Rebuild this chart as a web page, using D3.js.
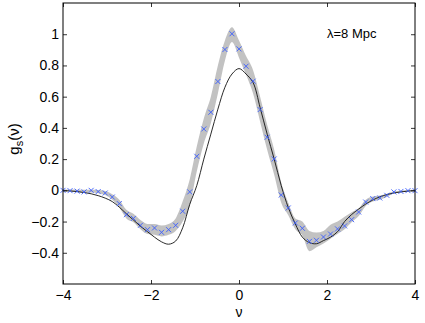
<!DOCTYPE html>
<html>
<head>
<meta charset="utf-8">
<script src="https://cdn.jsdelivr.net/npm/d3@7"></script>
<style>
  body { margin: 0; background: #fff; }
  text { font-family: "Liberation Sans", Arial, sans-serif; fill: #000; }
</style>
</head>
<body>
<svg id="chart" width="425" height="323"></svg>
<script>
// nu grid
const nu = [-4.00, -3.84, -3.68, -3.52, -3.36, -3.20, -3.04, -2.88, -2.72, -2.56,
            -2.40, -2.24, -2.08, -1.92, -1.76, -1.60, -1.44, -1.28, -1.12, -0.96,
            -0.80, -0.64, -0.48, -0.32, -0.16, 0.00, 0.16, 0.32, 0.48, 0.64,
            0.80, 0.96, 1.12, 1.28, 1.44, 1.60, 1.76, 1.92, 2.08, 2.24,
            2.40, 2.56, 2.72, 2.88, 3.04, 3.20, 3.36, 3.52, 3.68, 3.84, 4.00]

// measured g_s (blue crosses)
const measured = [0.000, -0.002, -0.005, -0.010, 0.000, -0.008, -0.017, -0.043, -0.085, -0.156,
                  -0.180, -0.224, -0.252, -0.241, -0.269, -0.252, -0.224, -0.134, -0.010, 0.218,
                  0.393, 0.500, 0.697, 0.902, 1.003, 0.906, 0.795, 0.699, 0.517, 0.340,
                  0.201, -0.030, -0.113, -0.209, -0.243, -0.327, -0.320, -0.299, -0.280, -0.247,
                  -0.228, -0.188, -0.139, -0.075, -0.053, -0.049, -0.032, -0.010, -0.007, -0.002, -0.002]

// gray band edges
const bandHi = [0.006, 0.005, 0.004, 0.003, 0.004, 0.002, -0.004, -0.025, -0.060, -0.125,
                -0.150, -0.190, -0.215, -0.215, -0.225, -0.215, -0.180, -0.070, 0.070, 0.280,
                0.460, 0.600, 0.800, 0.960, 1.045, 0.960, 0.860, 0.770, 0.600, 0.420,
                0.260, 0.050, -0.080, -0.180, -0.200, -0.260, -0.270, -0.260, -0.220, -0.200,
                -0.170, -0.140, -0.115, -0.060, -0.040, -0.033, -0.022, -0.006, -0.002, 0.002, 0.003]
const bandLo = [-0.006, -0.008, -0.012, -0.015, -0.014, -0.018, -0.030, -0.060, -0.110, -0.180,
                -0.205, -0.250, -0.280, -0.285, -0.295, -0.285, -0.260, -0.200, -0.100, 0.120,
                0.300, 0.430, 0.620, 0.830, 0.950, 0.850, 0.740, 0.620, 0.440, 0.260,
                0.100, -0.080, -0.160, -0.250, -0.290, -0.390, -0.365, -0.340, -0.310, -0.280,
                -0.250, -0.205, -0.165, -0.100, -0.072, -0.060, -0.042, -0.018, -0.012, -0.007, -0.006]

// model (black line)
const model = [-0.002, -0.004, -0.008, -0.014, -0.022, -0.034, -0.050, -0.072, -0.108, -0.150,
               -0.190, -0.230, -0.265, -0.300, -0.330, -0.345, -0.325, -0.240, -0.090, 0.030,
               0.200, 0.360, 0.520, 0.660, 0.745, 0.780, 0.745, 0.690, 0.530, 0.360,
               0.200, 0.030, -0.110, -0.215, -0.300, -0.335, -0.342, -0.322, -0.300, -0.265,
               -0.200, -0.155, -0.120, -0.088, -0.062, -0.042, -0.027, -0.017, -0.010, -0.005, -0.002]

const xTicks = [-4, -2, 0, 2, 4]
const yTicks = [-0.4, -0.2, 0, 0.2, 0.4, 0.6, 0.8, 1]

const svg = d3.select("#chart")
const margin = { top: 3, right: 10, bottom: 39, left: 63 }
const width = +svg.attr("width") - margin.left - margin.right
const height = +svg.attr("height") - margin.top - margin.bottom

const x = d3.scaleLinear().domain([-4, 4]).range([0, width])
const y = d3.scaleLinear().domain([-0.6, 1.2]).range([height, 0])

const g = svg.append("g").attr("transform", "translate(" + margin.left + "," + margin.top + ")")

const rows = nu.map((v, i) => ({ nu: v, m: measured[i], hi: bandHi[i], lo: bandLo[i], f: model[i] }))

// band
g.append("path")
    .datum(rows)
    .attr("fill", "#c2c2c2")
    .attr("d", d3.area()
        .x(d => x(d.nu))
        .y0(d => y(d.lo))
        .y1(d => y(d.hi))
        .curve(d3.curveMonotoneX))

// model line
g.append("path")
    .datum(rows)
    .attr("fill", "none")
    .attr("stroke", "#111")
    .attr("stroke-width", 0.9)
    .attr("d", d3.line()
        .x(d => x(d.nu))
        .y(d => y(d.f))
        .curve(d3.curveCatmullRom))

// crosses
const s = 2.5
g.selectAll(".cross")
    .data(rows)
    .enter().append("path")
    .attr("class", "cross")
    .attr("fill", "none")
    .attr("stroke", "#3a5cff")
    .attr("stroke-width", 0.9)
    .attr("d", d => {
        const cx = x(d.nu), cy = y(d.m)
        return `M${cx - s},${cy - s}L${cx + s},${cy + s}M${cx - s},${cy + s}L${cx + s},${cy - s}`
    })

// axes, MATLAB style box with inward ticks
const tl = 4
const xAxisB = d3.axisBottom(x).tickValues(xTicks).tickSize(-tl).tickPadding(6).tickFormat(d3.format("d"))
const xAxisT = d3.axisTop(x).tickValues(xTicks).tickSize(-tl).tickFormat("")
const yAxisL = d3.axisLeft(y).tickValues(yTicks).tickSize(-tl).tickPadding(4).tickFormat(d => d3.format("")(+d.toFixed(1)).replace("-", "\u2212"))
const yAxisR = d3.axisRight(y).tickValues(yTicks).tickSize(-tl).tickFormat("")

const styleAxis = sel => {
    sel.select(".domain").remove()
    sel.selectAll("line").attr("stroke", "#000").attr("stroke-width", 0.8)
    sel.selectAll("text").style("font-size", "14px").attr("fill", "#000")
}

g.append("g").attr("transform", "translate(0," + height + ")").call(xAxisB).call(styleAxis)
g.append("g").call(xAxisT).call(styleAxis)
g.append("g").call(yAxisL).call(styleAxis)
g.append("g").attr("transform", "translate(" + width + ",0)").call(yAxisR).call(styleAxis)

g.append("rect")
    .attr("x", 0).attr("y", 0)
    .attr("width", width).attr("height", height)
    .attr("fill", "none")
    .attr("stroke", "#000")
    .attr("stroke-width", 1)

// labels
g.append("text")
    .attr("x", width / 2)
    .attr("y", height + 33)
    .attr("text-anchor", "middle")
    .style("font-size", "14px")
    .text("\u03bd")

const yl = svg.append("text")
    .attr("transform", "translate(19," + 139 + ") rotate(-90)")
    .attr("text-anchor", "middle")
    .style("font-size", "15px")
yl.append("tspan").text("g")
yl.append("tspan").attr("dy", 4).style("font-size", "11px").text("s")
yl.append("tspan").attr("dy", -4).text("(\u03bd)")

g.append("text")
    .attr("x", x(2))
    .attr("y", y(1) + 4)
    .style("font-size", "13px")
    .text("\u03bb=8 Mpc")
</script>
</body>
</html>
